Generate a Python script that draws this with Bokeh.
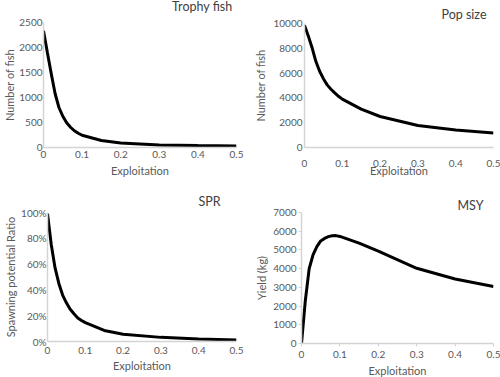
from bokeh.plotting import figure
from bokeh.layouts import column, row
from bokeh.models import Range1d, FixedTicker, NumeralTickFormatter, Title
from bokeh.embed import file_html
from bokeh.resources import INLINE

exploitation = [0, 0.01, 0.02, 0.03, 0.04, 0.05, 0.06, 0.07, 0.08, 0.09, 0.1, 0.15, 0.2, 0.3, 0.4, 0.5]
trophy_fish = [2337, 1900, 1480, 1080, 800, 625, 495, 405, 335, 285, 245, 140, 88, 52, 38, 30]
pop_size = [9850, 9000, 8050, 6950, 6150, 5550, 5050, 4700, 4400, 4130, 3900, 3100, 2500, 1780, 1420, 1160]
spr = [0.99, 0.75, 0.57, 0.45, 0.36, 0.30, 0.25, 0.215, 0.183, 0.163, 0.146, 0.086, 0.056, 0.032, 0.02, 0.012]
msy = [0, 2300, 4000, 4730, 5180, 5480, 5615, 5710, 5755, 5765, 5720, 5360, 4930, 4020, 3450, 3050]

x_ticks = [0, 0.1, 0.2, 0.3, 0.4, 0.5]
trophy_ticks = [0, 500, 1000, 1500, 2000, 2500]
pop_ticks = [0, 2000, 4000, 6000, 8000, 10000]
spr_ticks = [0, 0.2, 0.4, 0.6, 0.8, 1.0]
msy_ticks = [0, 1000, 2000, 3000, 4000, 5000, 6000, 7000]

FONT = "Lato"
TXT = "#595959"
AX = "#d4d4d4"


def panel(w, h, top, bottom, left, right, y, yticks, yfmt, ylabel, title, offset, standoff,
          xstd, ystd, xlstd, ylstd, tick_out=0):
    p = figure(width=w, height=h, output_backend="svg", toolbar_location=None,
               x_range=Range1d(0, 0.5), y_range=Range1d(0, yticks[-1]),
               min_border_top=top, min_border_bottom=bottom,
               min_border_left=left, min_border_right=right)
    p.outline_line_color = None
    p.xgrid.grid_line_color = None
    p.ygrid.grid_line_color = None
    p.line(exploitation, y, line_color="black", line_width=3)
    for ax in (p.xaxis[0], p.yaxis[0]):
        ax.axis_line_color = AX
        ax.axis_line_width = 1.5
        ax.minor_tick_line_color = None
        ax.major_tick_in = 0
        ax.major_tick_out = tick_out
        ax.major_tick_line_color = AX if tick_out else None
        ax.major_label_text_font = FONT
        ax.major_label_text_font_size = "10px"
        ax.major_label_text_color = TXT
        ax.axis_label_text_font = FONT
        ax.axis_label_text_font_size = "11px"
        ax.axis_label_text_font_style = "normal"
        ax.axis_label_text_color = TXT
    p.xaxis.ticker = FixedTicker(ticks=x_ticks)
    p.xaxis.formatter = NumeralTickFormatter(format="0.[0]")
    p.yaxis.ticker = FixedTicker(ticks=yticks)
    p.yaxis.formatter = NumeralTickFormatter(format=yfmt)
    p.xaxis.axis_label = "Exploitation"
    p.yaxis.axis_label = ylabel
    p.xaxis.major_label_standoff = xstd
    p.yaxis.major_label_standoff = ystd
    p.xaxis.axis_label_standoff = xlstd
    p.yaxis.axis_label_standoff = ylstd
    p.add_layout(Title(text=title, align="right", offset=offset, standoff=standoff,
                       text_font=FONT, text_font_size="12.5px", text_font_style="normal",
                       text_color="#404040"), "above")
    return p


# top row: both with 32px top border, shifted up via negative margins
p1 = panel(250, 197, 32, 38, 42, 14, trophy_fish, trophy_ticks, "0", "Number of fish",
           "Trophy fish", 4, 17, 3, 1, 3, 0)
p1.margin = (-12, 0, 0, 0)
p2 = panel(250, 196, 32, 38, 54, 7, pop_size, pop_ticks, "0", "Number of fish",
           "Pop size", 7, 4, 12, 2, -6, 3)
p2.margin = (-11, 0, 0, 0)
# bottom row: both with 27px top / 36px bottom border
p3 = panel(250, 192, 27, 36, 47, 14, spr, spr_ticks, "0%", "Spawning potential Ratio",
           "SPR", 16, 7, 5, 1, 2, 1)
p4 = panel(250, 194, 27, 36, 51, 7, msy, msy_ticks, "0", "Yield (kg)",
           "MSY", 10, 0, 4, 2, 3, 2, tick_out=3)
p4.margin = (0, 0, -2, 0)

layout = column(row(p1, p2), row(p3, p4))
open("out.html", "w").write(file_html(layout, INLINE))
